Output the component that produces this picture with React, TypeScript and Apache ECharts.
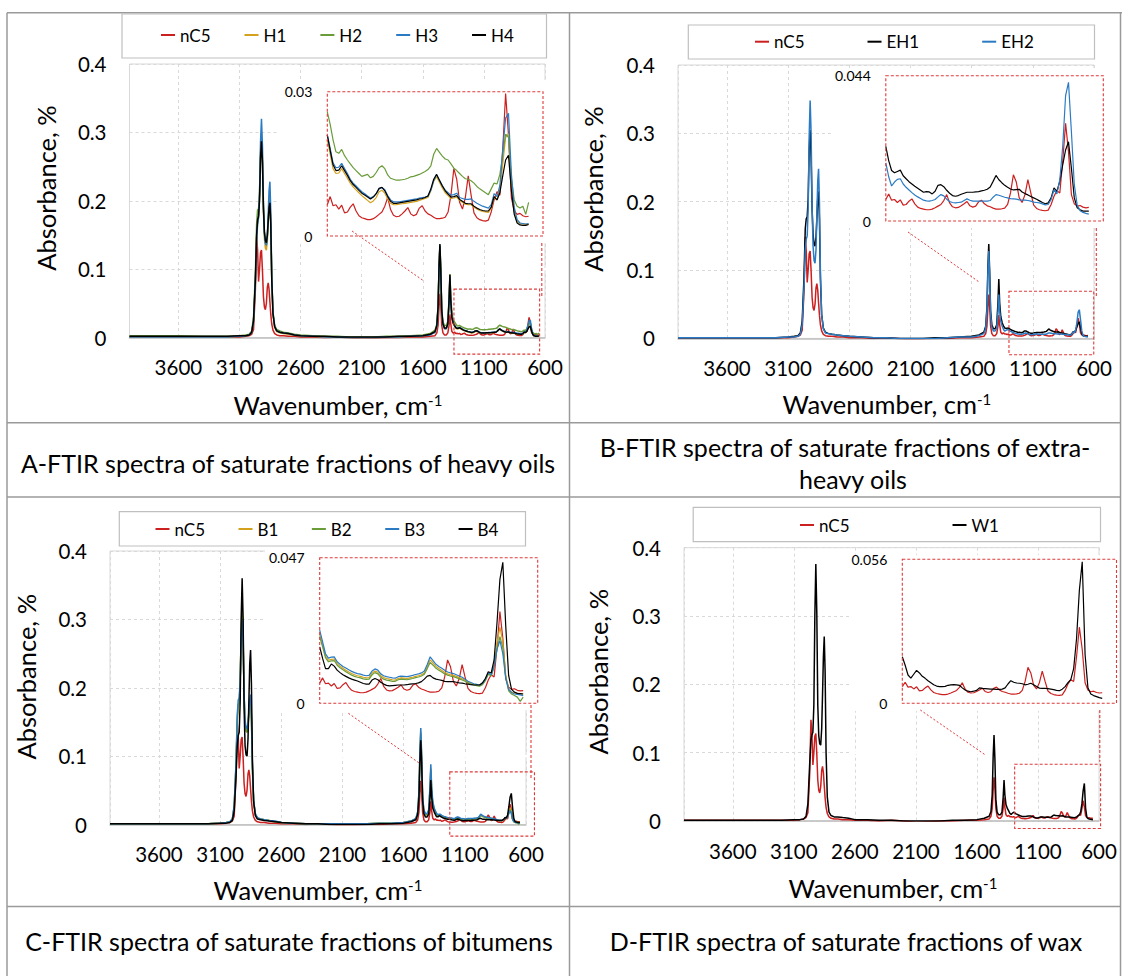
import React, { useEffect, useRef } from "react";
import * as echarts from "echarts";

// ---------- wavenumber grids (cm-1) ----------
const WN_MAIN = [
  4000, 3800, 3600, 3400, 3200, 3100, 3050, 3020, 3000, 2985,
  2970, 2960, 2952, 2944, 2936, 2928, 2920, 2912, 2904, 2896,
  2888, 2880, 2872, 2865, 2858, 2851, 2844, 2836, 2826, 2812,
  2795, 2770, 2740, 2700, 2650, 2600, 2500, 2400, 2300, 2200,
  2100, 2000, 1900, 1800, 1700, 1600, 1540, 1500, 1485, 1475,
  1467, 1460, 1453, 1445, 1435, 1422, 1408, 1395, 1385, 1378,
  1371, 1362,
];
const WN_INSET = [
  1350, 1340, 1330, 1320, 1310, 1300, 1290, 1280, 1270, 1260,
  1250, 1240, 1230, 1220, 1210, 1200, 1190, 1180, 1170, 1160,
  1150, 1140, 1130, 1120, 1110, 1100, 1090, 1080, 1070, 1060,
  1050, 1040, 1030, 1020, 1010, 1000, 990, 980, 970, 960,
  950, 940, 930, 920, 910, 900, 890, 880, 870, 860,
  850, 840, 830, 820, 810, 800, 790, 780, 770, 760,
  750, 740, 730, 720, 710, 700, 690, 680, 670, 660,
  650,
];

// ---------- nC5 (shared reference) ----------
const NC5_MAIN = [
  0.001, 0.001, 0.001, 0.001, 0.001, 0.001, 0.002, 0.003, 0.005, 0.012,
  0.070, 0.148, 0.128, 0.082, 0.100, 0.124, 0.128, 0.098, 0.060, 0.045,
  0.041, 0.050, 0.074, 0.080, 0.071, 0.052, 0.034, 0.020, 0.011, 0.006,
  0.004, 0.003, 0.003, 0.002, 0.002, 0.001, 0.001, 0.000, 0.001, 0.000,
  -0.002, -0.001, 0.000, 0.000, 0.001, 0.001, 0.002, 0.003, 0.007, 0.018,
  0.045, 0.064, 0.048, 0.018, 0.007, 0.004, 0.004, 0.007, 0.018, 0.034,
  0.020, 0.009,
];
const NC5_INSET = [
  0.0065, 0.0082, 0.0063, 0.0065, 0.0056, 0.0064, 0.0048, 0.0050, 0.0060, 0.0067,
  0.0052, 0.0042, 0.0038, 0.0036, 0.0034, 0.0034, 0.0036, 0.0040, 0.0045, 0.0050,
  0.0062, 0.0080, 0.0055, 0.0043, 0.0040, 0.0041, 0.0046, 0.0052, 0.0059, 0.0046,
  0.0042, 0.0045, 0.0058, 0.0063, 0.0052, 0.0046, 0.0043, 0.0039, 0.0036, 0.0036,
  0.0037, 0.0039, 0.0050, 0.0085, 0.0140, 0.0118, 0.0070, 0.0056, 0.0080, 0.0125,
  0.0085, 0.0048, 0.0038, 0.0034, 0.0032, 0.0031, 0.0033, 0.0050, 0.0075, 0.0092,
  0.0085, 0.0180, 0.0296, 0.0210, 0.0080, 0.0052, 0.0045, 0.0047, 0.0042, 0.0040,
  0.0041,
];

// ---------- A: heavy oils ----------
const A_H1_MAIN = [
  0.001, 0.001, 0.001, 0.001, 0.001, 0.002, 0.003, 0.004, 0.008, 0.025,
  0.082, 0.145, 0.170, 0.176, 0.205, 0.270, 0.300, 0.262, 0.185, 0.145,
  0.131, 0.128, 0.142, 0.168, 0.195, 0.205, 0.170, 0.085, 0.034, 0.015,
  0.009, 0.007, 0.006, 0.005, 0.004, 0.003, 0.002, 0.001, 0.001, 0.000,
  0.000, 0.000, 0.001, 0.001, 0.002, 0.003, 0.005, 0.008, 0.017, 0.043,
  0.102, 0.133, 0.097, 0.038, 0.019, 0.013, 0.013, 0.019, 0.052, 0.087,
  0.052, 0.028,
];
const A_H1_INSET = [
  0.0200, 0.0170, 0.0140, 0.0130, 0.0131, 0.0140, 0.0130, 0.0120, 0.0110, 0.0102,
  0.0096, 0.0090, 0.0084, 0.0079, 0.0074, 0.0069, 0.0073, 0.0080, 0.0092, 0.0095,
  0.0089, 0.0077, 0.0068, 0.0065, 0.0065, 0.0066, 0.0067, 0.0068, 0.0069, 0.0070,
  0.0071, 0.0072, 0.0074, 0.0076, 0.0078, 0.0080, 0.0094, 0.0114, 0.0123, 0.0112,
  0.0100, 0.0090, 0.0084, 0.0078, 0.0079, 0.0081, 0.0074, 0.0070, 0.0066, 0.0065,
  0.0065, 0.0060, 0.0056, 0.0053, 0.0051, 0.0050, 0.0049, 0.0058, 0.0080, 0.0075,
  0.0095, 0.0150, 0.0205, 0.0213, 0.0110, 0.0050, 0.0030, 0.0026, 0.0025, 0.0024,
  0.0025,
];
const A_H2_MAIN = [
  0.003, 0.003, 0.003, 0.002, 0.002, 0.003, 0.004, 0.005, 0.010, 0.030,
  0.095, 0.165, 0.187, 0.188, 0.210, 0.268, 0.292, 0.258, 0.188, 0.152,
  0.139, 0.136, 0.148, 0.170, 0.192, 0.200, 0.168, 0.088, 0.038, 0.018,
  0.012, 0.010, 0.008, 0.007, 0.005, 0.004, 0.003, 0.002, 0.002, 0.001,
  0.001, 0.001, 0.002, 0.002, 0.003, 0.004, 0.006, 0.011, 0.020, 0.047,
  0.105, 0.135, 0.102, 0.043, 0.023, 0.018, 0.018, 0.024, 0.058, 0.093,
  0.060, 0.036,
];
const A_H2_INSET = [
  0.0258, 0.0232, 0.0200, 0.0175, 0.0172, 0.0180, 0.0167, 0.0158, 0.0150, 0.0142,
  0.0136, 0.0130, 0.0124, 0.0126, 0.0128, 0.0121, 0.0124, 0.0132, 0.0142, 0.0146,
  0.0140, 0.0127, 0.0120, 0.0118, 0.0116, 0.0116, 0.0117, 0.0118, 0.0120, 0.0123,
  0.0124, 0.0126, 0.0128, 0.0131, 0.0134, 0.0138, 0.0146, 0.0170, 0.0182, 0.0174,
  0.0166, 0.0160, 0.0158, 0.0150, 0.0141, 0.0136, 0.0130, 0.0124, 0.0119, 0.0118,
  0.0115, 0.0110, 0.0103, 0.0098, 0.0094, 0.0090, 0.0086, 0.0098, 0.0110, 0.0108,
  0.0128, 0.0168, 0.0212, 0.0205, 0.0120, 0.0075, 0.0062, 0.0058, 0.0062, 0.0045,
  0.0070,
];
const A_H3_MAIN = [
  0.001, 0.001, 0.001, 0.001, 0.001, 0.002, 0.003, 0.004, 0.008, 0.024,
  0.080, 0.140, 0.165, 0.175, 0.210, 0.285, 0.320, 0.280, 0.195, 0.152,
  0.138, 0.135, 0.150, 0.180, 0.215, 0.228, 0.185, 0.090, 0.036, 0.016,
  0.010, 0.008, 0.007, 0.006, 0.004, 0.003, 0.002, 0.001, 0.001, 0.000,
  0.000, 0.000, 0.001, 0.001, 0.002, 0.003, 0.004, 0.008, 0.017, 0.043,
  0.102, 0.134, 0.097, 0.038, 0.019, 0.013, 0.013, 0.019, 0.052, 0.088,
  0.052, 0.028,
];
const A_H3_INSET = [
  0.0210, 0.0182, 0.0152, 0.0142, 0.0143, 0.0151, 0.0140, 0.0130, 0.0118, 0.0110,
  0.0104, 0.0098, 0.0092, 0.0088, 0.0083, 0.0079, 0.0082, 0.0088, 0.0098, 0.0101,
  0.0096, 0.0084, 0.0075, 0.0071, 0.0071, 0.0071, 0.0072, 0.0073, 0.0074, 0.0075,
  0.0076, 0.0077, 0.0079, 0.0080, 0.0081, 0.0083, 0.0095, 0.0115, 0.0128, 0.0116,
  0.0105, 0.0095, 0.0090, 0.0085, 0.0086, 0.0089, 0.0080, 0.0078, 0.0076, 0.0076,
  0.0077, 0.0072, 0.0068, 0.0065, 0.0062, 0.0060, 0.0058, 0.0065, 0.0088, 0.0082,
  0.0105, 0.0180, 0.0245, 0.0255, 0.0130, 0.0060, 0.0034, 0.0027, 0.0026, 0.0025,
  0.0026,
];
const A_H4_MAIN = [
  0.002, 0.002, 0.002, 0.002, 0.002, 0.003, 0.003, 0.004, 0.008, 0.025,
  0.085, 0.150, 0.172, 0.178, 0.200, 0.262, 0.287, 0.255, 0.190, 0.155,
  0.142, 0.139, 0.150, 0.170, 0.190, 0.197, 0.165, 0.085, 0.035, 0.016,
  0.010, 0.008, 0.007, 0.006, 0.004, 0.003, 0.002, 0.002, 0.001, 0.001,
  0.001, 0.001, 0.001, 0.002, 0.002, 0.003, 0.005, 0.009, 0.018, 0.045,
  0.105, 0.137, 0.100, 0.040, 0.020, 0.014, 0.014, 0.020, 0.055, 0.092,
  0.055, 0.030,
];
const A_H4_INSET = [
  0.0210, 0.0178, 0.0148, 0.0136, 0.0137, 0.0146, 0.0136, 0.0126, 0.0115, 0.0107,
  0.0101, 0.0095, 0.0089, 0.0085, 0.0081, 0.0077, 0.0081, 0.0088, 0.0099, 0.0101,
  0.0094, 0.0082, 0.0072, 0.0068, 0.0068, 0.0069, 0.0070, 0.0071, 0.0072, 0.0073,
  0.0074, 0.0075, 0.0077, 0.0078, 0.0080, 0.0083, 0.0098, 0.0118, 0.0128, 0.0116,
  0.0104, 0.0094, 0.0087, 0.0081, 0.0082, 0.0084, 0.0076, 0.0072, 0.0068, 0.0067,
  0.0067, 0.0062, 0.0058, 0.0055, 0.0053, 0.0052, 0.0052, 0.0060, 0.0082, 0.0075,
  0.0090, 0.0125, 0.0158, 0.0168, 0.0095, 0.0045, 0.0027, 0.0023, 0.0022, 0.0022,
  0.0024,
];

// ---------- B: extra-heavy oils ----------
const B_EH1_MAIN = [
  0.001, 0.001, 0.001, 0.001, 0.001, 0.002, 0.003, 0.004, 0.008, 0.025,
  0.090, 0.160, 0.175, 0.178, 0.205, 0.275, 0.305, 0.265, 0.190, 0.152,
  0.138, 0.135, 0.148, 0.175, 0.205, 0.215, 0.175, 0.088, 0.035, 0.015,
  0.009, 0.007, 0.006, 0.005, 0.004, 0.003, 0.002, 0.001, 0.001, 0.000,
  0.000, 0.000, 0.001, 0.001, 0.002, 0.003, 0.005, 0.009, 0.018, 0.045,
  0.105, 0.138, 0.100, 0.040, 0.020, 0.014, 0.014, 0.020, 0.052, 0.087,
  0.052, 0.032,
];
const B_EH1_INSET = [
  0.0226, 0.0183, 0.0153, 0.0146, 0.0150, 0.0154, 0.0137, 0.0128, 0.0119, 0.0112,
  0.0105, 0.0099, 0.0093, 0.0087, 0.0089, 0.0088, 0.0082, 0.0090, 0.0108, 0.0110,
  0.0104, 0.0093, 0.0084, 0.0077, 0.0075, 0.0077, 0.0081, 0.0084, 0.0087, 0.0087,
  0.0087, 0.0088, 0.0089, 0.0091, 0.0093, 0.0096, 0.0103, 0.0120, 0.0138, 0.0125,
  0.0116, 0.0108, 0.0102, 0.0097, 0.0094, 0.0095, 0.0096, 0.0088, 0.0083, 0.0079,
  0.0074, 0.0070, 0.0066, 0.0061, 0.0056, 0.0052, 0.0055, 0.0070, 0.0100, 0.0090,
  0.0120, 0.0170, 0.0215, 0.0240, 0.0160, 0.0070, 0.0040, 0.0034, 0.0030, 0.0030,
  0.0030,
];
const B_EH2_MAIN = [
  0.001, 0.001, 0.001, 0.001, 0.001, 0.002, 0.002, 0.003, 0.006, 0.020,
  0.075, 0.130, 0.145, 0.150, 0.190, 0.295, 0.348, 0.300, 0.190, 0.135,
  0.114, 0.110, 0.130, 0.180, 0.230, 0.248, 0.200, 0.095, 0.035, 0.014,
  0.008, 0.007, 0.006, 0.005, 0.004, 0.003, 0.002, 0.001, 0.001, 0.000,
  0.000, 0.000, 0.000, 0.001, 0.002, 0.002, 0.004, 0.007, 0.015, 0.040,
  0.097, 0.128, 0.092, 0.035, 0.016, 0.011, 0.011, 0.015, 0.038, 0.064,
  0.040, 0.025,
];
const B_EH2_INSET = [
  0.0176, 0.0134, 0.0106, 0.0118, 0.0126, 0.0128, 0.0112, 0.0102, 0.0094, 0.0086,
  0.0079, 0.0073, 0.0068, 0.0063, 0.0061, 0.0060, 0.0062, 0.0065, 0.0073, 0.0080,
  0.0076, 0.0066, 0.0059, 0.0056, 0.0055, 0.0056, 0.0057, 0.0062, 0.0067, 0.0063,
  0.0060, 0.0060, 0.0060, 0.0060, 0.0060, 0.0060, 0.0062, 0.0072, 0.0080, 0.0078,
  0.0075, 0.0072, 0.0070, 0.0068, 0.0067, 0.0066, 0.0064, 0.0063, 0.0063, 0.0062,
  0.0060, 0.0057, 0.0056, 0.0055, 0.0052, 0.0049, 0.0050, 0.0065, 0.0095, 0.0082,
  0.0125, 0.0225, 0.0380, 0.0420, 0.0270, 0.0110, 0.0048, 0.0031, 0.0026, 0.0023,
  0.0021,
];

// ---------- C: bitumens ----------
const C_B1_MAIN = [
  0.001, 0.001, 0.001, 0.001, 0.001, 0.002, 0.003, 0.004, 0.008, 0.026,
  0.085, 0.150, 0.170, 0.175, 0.210, 0.285, 0.320, 0.278, 0.190, 0.148,
  0.137, 0.135, 0.145, 0.163, 0.180, 0.186, 0.155, 0.082, 0.034, 0.015,
  0.009, 0.008, 0.007, 0.006, 0.004, 0.003, 0.002, 0.001, 0.001, 0.001,
  0.001, 0.001, 0.001, 0.002, 0.002, 0.003, 0.005, 0.008, 0.018, 0.046,
  0.104, 0.136, 0.099, 0.040, 0.020, 0.015, 0.015, 0.020, 0.051, 0.082,
  0.050, 0.031,
];
const C_B1_INSET = [
  0.0222, 0.0188, 0.0152, 0.0139, 0.0142, 0.0143, 0.0128, 0.0120, 0.0113, 0.0107,
  0.0101, 0.0096, 0.0092, 0.0089, 0.0087, 0.0084, 0.0082, 0.0083, 0.0097, 0.0104,
  0.0100, 0.0089, 0.0083, 0.0080, 0.0078, 0.0076, 0.0075, 0.0080, 0.0082, 0.0081,
  0.0080, 0.0082, 0.0084, 0.0087, 0.0089, 0.0092, 0.0098, 0.0118, 0.0140, 0.0130,
  0.0119, 0.0112, 0.0106, 0.0100, 0.0095, 0.0092, 0.0090, 0.0087, 0.0083, 0.0079,
  0.0074, 0.0068, 0.0064, 0.0061, 0.0059, 0.0057, 0.0062, 0.0076, 0.0096, 0.0090,
  0.0125, 0.0195, 0.0245, 0.0200, 0.0090, 0.0045, 0.0036, 0.0033, 0.0032, 0.0031,
  0.0030,
];
const C_B2_MAIN = [
  0.001, 0.001, 0.001, 0.001, 0.001, 0.002, 0.003, 0.004, 0.008, 0.027,
  0.088, 0.155, 0.175, 0.178, 0.208, 0.278, 0.310, 0.270, 0.188, 0.148,
  0.137, 0.135, 0.144, 0.160, 0.176, 0.182, 0.152, 0.080, 0.033, 0.015,
  0.009, 0.008, 0.007, 0.006, 0.004, 0.003, 0.002, 0.001, 0.001, 0.001,
  0.001, 0.001, 0.001, 0.002, 0.002, 0.003, 0.005, 0.008, 0.017, 0.045,
  0.102, 0.133, 0.097, 0.039, 0.019, 0.014, 0.014, 0.019, 0.050, 0.080,
  0.048, 0.030,
];
const C_B2_INSET = [
  0.0215, 0.0182, 0.0147, 0.0134, 0.0137, 0.0138, 0.0123, 0.0115, 0.0108, 0.0102,
  0.0096, 0.0091, 0.0087, 0.0084, 0.0082, 0.0079, 0.0077, 0.0078, 0.0092, 0.0099,
  0.0095, 0.0084, 0.0078, 0.0075, 0.0073, 0.0071, 0.0071, 0.0076, 0.0078, 0.0077,
  0.0076, 0.0078, 0.0080, 0.0083, 0.0085, 0.0088, 0.0094, 0.0112, 0.0132, 0.0123,
  0.0113, 0.0107, 0.0101, 0.0095, 0.0091, 0.0088, 0.0086, 0.0083, 0.0079, 0.0075,
  0.0071, 0.0066, 0.0062, 0.0059, 0.0057, 0.0055, 0.0060, 0.0073, 0.0094, 0.0088,
  0.0118, 0.0175, 0.0215, 0.0180, 0.0085, 0.0040, 0.0030, 0.0025, 0.0020, 0.0006,
  0.0020,
];
const C_B3_MAIN = [
  0.001, 0.001, 0.001, 0.001, 0.001, 0.002, 0.003, 0.004, 0.008, 0.028,
  0.090, 0.160, 0.182, 0.185, 0.210, 0.270, 0.300, 0.265, 0.190, 0.152,
  0.142, 0.140, 0.148, 0.165, 0.183, 0.190, 0.160, 0.085, 0.035, 0.016,
  0.010, 0.008, 0.007, 0.006, 0.005, 0.003, 0.002, 0.001, 0.001, 0.001,
  0.001, 0.001, 0.001, 0.002, 0.002, 0.003, 0.005, 0.009, 0.019, 0.048,
  0.108, 0.141, 0.103, 0.042, 0.022, 0.016, 0.016, 0.022, 0.055, 0.088,
  0.055, 0.034,
];
const C_B3_INSET = [
  0.0236, 0.0198, 0.0160, 0.0146, 0.0149, 0.0150, 0.0134, 0.0126, 0.0119, 0.0114,
  0.0108, 0.0103, 0.0099, 0.0096, 0.0094, 0.0091, 0.0089, 0.0090, 0.0104, 0.0111,
  0.0107, 0.0095, 0.0089, 0.0086, 0.0084, 0.0082, 0.0081, 0.0086, 0.0088, 0.0087,
  0.0086, 0.0088, 0.0090, 0.0093, 0.0095, 0.0098, 0.0104, 0.0125, 0.0150, 0.0138,
  0.0126, 0.0119, 0.0113, 0.0107, 0.0101, 0.0098, 0.0096, 0.0092, 0.0088, 0.0084,
  0.0078, 0.0071, 0.0067, 0.0063, 0.0061, 0.0059, 0.0064, 0.0078, 0.0099, 0.0092,
  0.0120, 0.0175, 0.0202, 0.0160, 0.0080, 0.0045, 0.0035, 0.0030, 0.0029, 0.0027,
  0.0025,
];
const C_B4_MAIN = [
  0.001, 0.001, 0.001, 0.001, 0.001, 0.002, 0.002, 0.003, 0.006, 0.020,
  0.070, 0.115, 0.130, 0.135, 0.180, 0.300, 0.360, 0.300, 0.170, 0.115,
  0.102, 0.100, 0.125, 0.180, 0.235, 0.255, 0.205, 0.095, 0.033, 0.013,
  0.008, 0.007, 0.006, 0.005, 0.004, 0.003, 0.002, 0.001, 0.001, 0.000,
  0.000, 0.000, 0.000, 0.001, 0.001, 0.002, 0.004, 0.007, 0.015, 0.038,
  0.092, 0.123, 0.090, 0.035, 0.016, 0.011, 0.011, 0.015, 0.038, 0.065,
  0.040, 0.024,
];
const C_B4_INSET = [
  0.0182, 0.0145, 0.0112, 0.0112, 0.0127, 0.0120, 0.0107, 0.0099, 0.0092, 0.0087,
  0.0082, 0.0078, 0.0075, 0.0072, 0.0068, 0.0064, 0.0062, 0.0062, 0.0075, 0.0080,
  0.0076, 0.0068, 0.0062, 0.0058, 0.0056, 0.0057, 0.0058, 0.0059, 0.0059, 0.0059,
  0.0060, 0.0062, 0.0063, 0.0064, 0.0066, 0.0070, 0.0078, 0.0088, 0.0090, 0.0082,
  0.0078, 0.0076, 0.0074, 0.0071, 0.0070, 0.0070, 0.0070, 0.0068, 0.0066, 0.0065,
  0.0063, 0.0062, 0.0060, 0.0059, 0.0059, 0.0059, 0.0066, 0.0080, 0.0102, 0.0098,
  0.0140, 0.0260, 0.0400, 0.0455, 0.0250, 0.0090, 0.0045, 0.0036, 0.0032, 0.0031,
  0.0030,
];

// ---------- D: wax ----------
const D_W1_MAIN = [
  0.001, 0.001, 0.001, 0.001, 0.001, 0.002, 0.002, 0.003, 0.007, 0.025,
  0.085, 0.118, 0.126, 0.130, 0.170, 0.300, 0.376, 0.305, 0.170, 0.125,
  0.113, 0.111, 0.135, 0.185, 0.240, 0.270, 0.220, 0.100, 0.035, 0.013,
  0.008, 0.006, 0.006, 0.005, 0.004, 0.002, 0.002, 0.001, 0.001, 0.000,
  0.000, 0.000, 0.000, 0.001, 0.001, 0.002, 0.004, 0.007, 0.014, 0.038,
  0.095, 0.126, 0.092, 0.032, 0.013, 0.009, 0.009, 0.013, 0.035, 0.060,
  0.038, 0.024,
];
const D_W1_INSET = [
  0.0181, 0.0148, 0.0110, 0.0098, 0.0113, 0.0128, 0.0118, 0.0105, 0.0097, 0.0088,
  0.0080, 0.0072, 0.0067, 0.0065, 0.0065, 0.0066, 0.0070, 0.0072, 0.0073, 0.0072,
  0.0070, 0.0060, 0.0052, 0.0047, 0.0045, 0.0047, 0.0050, 0.0060, 0.0058, 0.0057,
  0.0056, 0.0055, 0.0055, 0.0054, 0.0054, 0.0055, 0.0060, 0.0075, 0.0088, 0.0082,
  0.0079, 0.0078, 0.0076, 0.0072, 0.0074, 0.0078, 0.0072, 0.0065, 0.0059, 0.0058,
  0.0058, 0.0057, 0.0055, 0.0053, 0.0050, 0.0049, 0.0055, 0.0065, 0.0080, 0.0092,
  0.0135, 0.0250, 0.0440, 0.0550, 0.0190, 0.0060, 0.0036, 0.0030, 0.0026, 0.0022,
  0.0019,
];

const INSET_MAX = [0.03, 0.044, 0.047, 0.056];
const CAPTIONS = [
  "A-FTIR spectra of saturate fractions of heavy oils",
  "B-FTIR spectra of saturate fractions of extra-",
  "heavy oils",
  "C-FTIR spectra of saturate fractions of bitumens",
  "D-FTIR spectra of saturate fractions of wax",
];

// ---------- styles ----------
const FONT = 'Lato, "Noto Sans", sans-serif';
const RED = "#cc1f1f";
const GOLD = "#d4a11c";
const GREEN = "#6a9c3a";
const BLUE = "#2b7bc4";
const BLACK = "#000000";
const DASH_RED = "#e03a3a";
const TABLE = "#9a9a9a";
const GRIDC = "#d9d9d9";

const PANELS: any[] = [
  {
    names: ["nC5", "H1", "H2", "H3", "H4"],
    colors: [RED, GOLD, GREEN, BLUE, BLACK],
    main: [NC5_MAIN, A_H1_MAIN, A_H2_MAIN, A_H3_MAIN, A_H4_MAIN],
    inset: [NC5_INSET, A_H1_INSET, A_H2_INSET, A_H3_INSET, A_H4_INSET],
    grid: { left: 129.5, top: 64, width: 415.5, height: 273.7 },
    insetGrid: { left: 327.3, top: 91.7, width: 215.7, height: 144.3 },
    legend: { left: 161, cy: 35, gap: 34 },
    legendBox: [122, 14, 424.5, 44],
    yTitle: [45.5, 188],
    xTitle: [338, 405],
    mask: [279, 80, 269, 163],
    zoom: [1345, 644, -0.024, 0.071],
    conFrom: [352, 231],
    conTo: [1600, 0.084],
    vline: [541.8, 243, 297],
  },
  {
    names: ["nC5", "EH1", "EH2"],
    colors: [RED, BLACK, BLUE],
    main: [NC5_MAIN, B_EH1_MAIN, B_EH2_MAIN],
    inset: [NC5_INSET, B_EH1_INSET, B_EH2_INSET],
    grid: { left: 678, top: 65, width: 416, height: 273.4 },
    insetGrid: { left: 885.8, top: 75.7, width: 217.5, height: 145.3 },
    legend: { left: 755, cy: 41.7, gap: 63 },
    legendBox: [688.3, 25, 406.2, 34],
    yTitle: [592.9, 189],
    xTitle: [886.9, 404],
    mask: [832, 68, 274, 160],
    zoom: [1295, 602, -0.024, 0.069],
    conFrom: [908, 232],
    conTo: [1543, 0.083],
    vline: [1096.3, 228, 296.7],
  },
  {
    names: ["nC5", "B1", "B2", "B3", "B4"],
    colors: [RED, GOLD, GREEN, BLUE, BLACK],
    main: [NC5_MAIN, C_B1_MAIN, C_B2_MAIN, C_B3_MAIN, C_B4_MAIN],
    inset: [NC5_INSET, C_B1_INSET, C_B2_INSET, C_B3_INSET, C_B4_INSET],
    grid: { left: 110, top: 551, width: 416, height: 273.5 },
    insetGrid: { left: 319.7, top: 557.7, width: 218, height: 145.6 },
    legend: { left: 155.5, cy: 529, gap: 33.5 },
    legendBox: [119.3, 511.7, 406.2, 34.3],
    yTitle: [25.5, 676.7],
    xTitle: [318, 890],
    mask: [265, 549, 275, 161],
    zoom: [1223, 531, -0.017, 0.077],
    conFrom: [348.4, 713.3],
    conTo: [1466, 0.089],
    vline: [531, 705, 780],
  },
  {
    names: ["nC5", "W1"],
    colors: [RED, BLACK],
    main: [NC5_MAIN, D_W1_MAIN],
    inset: [NC5_INSET, D_W1_INSET],
    grid: { left: 684, top: 547.7, width: 415, height: 273.3 },
    insetGrid: { left: 902.3, top: 559.3, width: 214.2, height: 144 },
    legend: { left: 800, cy: 525, gap: 103 },
    legendBox: [693.2, 507.3, 407.3, 34.4],
    yTitle: [598, 671.7],
    xTitle: [893, 888.3],
    mask: [850, 555, 269, 156],
    zoom: [1291, 587, -0.011, 0.083],
    conFrom: [920.3, 710],
    conTo: [1534, 0.097],
    vline: [1099.8, 710, 761.7],
  },
];

const WN_ALL = [...WN_MAIN, ...WN_INSET];

function buildOption() {
  const grid: any[] = [];
  const xAxis: any[] = [];
  const yAxis: any[] = [];
  const legend: any[] = [];
  const series: any[] = [];

  PANELS.forEach((p, pi) => {
    grid.push({
      ...p.grid,
      show: true,
      borderColor: GRIDC,
      borderWidth: 1,
      containLabel: false,
      outerBoundsMode: "none",
    });
    grid.push({ ...p.insetGrid, show: false, containLabel: false, outerBoundsMode: "none" });

    xAxis.push({
      type: "value",
      gridIndex: pi * 2,
      min: 600,
      max: 4000,
      interval: 500,
      inverse: true,
      axisLine: { show: true, onZero: false, lineStyle: { color: "#bfbfbf", width: 1.5 } },
      axisTick: { show: false },
      axisLabel: {
        margin: 19,
        fontSize: 20.5,
        color: "#000",
        fontFamily: FONT,
        formatter: (v: number) => (v === 4000 ? "" : String(v)),
      },
      splitLine: { show: true, lineStyle: { color: GRIDC, width: 1, type: [3, 3] } },
    });
    xAxis.push({
      type: "value",
      gridIndex: pi * 2 + 1,
      min: 600,
      max: 1350,
      inverse: true,
      show: false,
    });

    yAxis.push({
      type: "value",
      gridIndex: pi * 2,
      min: 0,
      max: 0.4,
      interval: 0.1,
      axisLine: { show: false },
      axisTick: { show: false },
      axisLabel: { margin: 23, fontSize: 20.5, color: "#000", fontFamily: FONT },
      splitLine: { show: true, lineStyle: { color: GRIDC, width: 1, type: [3, 3] } },
    });
    const mx = INSET_MAX[pi];
    yAxis.push({
      type: "value",
      gridIndex: pi * 2 + 1,
      min: 0,
      max: mx,
      interval: mx,
      z: 3,
      axisLine: { show: false },
      axisTick: { show: false },
      splitLine: { show: false },
      axisLabel: {
        margin: 15,
        fontSize: 14,
        color: "#000",
        fontFamily: FONT,
        formatter: (v: number) => String(+v.toFixed(3)),
      },
    });

    legend.push({
      data: p.names,
      left: p.legend.left,
      top: p.legend.cy - 8.5,
      orient: "horizontal",
      itemGap: p.legend.gap,
      itemWidth: 14,
      itemHeight: 2,
      icon: "rect",
      padding: 0,
      selectedMode: false,
      textStyle: { fontSize: 17, color: "#000", fontFamily: FONT },
    });

    p.names.forEach((name: string, si: number) => {
      const ys = [...p.main[si], ...p.inset[si]];
      const color = p.colors[si];
      series.push({
        type: "line",
        name,
        xAxisIndex: pi * 2,
        yAxisIndex: pi * 2,
        data: WN_ALL.map((w, k) => [w, ys[k]]),
        showSymbol: false,
        symbol: "none",
        silent: true,
        z: 2,
        color,
        itemStyle: { color },
        lineStyle: { color, width: 1.5 },
      });
      series.push({
        type: "line",
        name,
        xAxisIndex: pi * 2 + 1,
        yAxisIndex: pi * 2 + 1,
        data: WN_INSET.map((w, k) => [w, p.inset[si][k]]),
        showSymbol: false,
        symbol: "none",
        silent: true,
        z: 4,
        color,
        itemStyle: { color },
        lineStyle: { color, width: 1.2 },
      });
    });
  });

  return {
    animation: false,
    backgroundColor: "#ffffff",
    textStyle: { fontFamily: FONT },
    grid,
    xAxis,
    yAxis,
    legend,
    series,
  };
}

function buildGraphics(chart: any) {
  const els: any[] = [];
  const line = (id: string, x1: number, y1: number, x2: number, y2: number, stroke: string, w: number, z: number, dash?: number[]) =>
    els.push({
      type: "line",
      id,
      z,
      silent: true,
      shape: { x1, y1, x2, y2 },
      style: { stroke, lineWidth: w, lineDash: dash || null },
    });

  // table rules
  line("t-top", 7, 12.7, 1122, 12.7, TABLE, 1.5, 0);
  line("t-left", 7, 12.7, 7, 976, TABLE, 1.5, 0);
  line("t-mid", 569.5, 12.7, 569.5, 976, TABLE, 1.5, 0);
  line("t-right", 1120.5, 12.7, 1120.5, 976, TABLE, 1.5, 0);
  line("t-h1", 7, 422.7, 1120.5, 422.7, TABLE, 1.5, 0);
  line("t-h2", 7, 497, 1120.5, 497, TABLE, 1.5, 0);
  line("t-h3", 7, 906.5, 1120.5, 906.5, TABLE, 1.5, 0);

  // captions
  const cap = (id: string, text: string, x: number, y: number) =>
    els.push({
      type: "text",
      id,
      z: 5,
      x,
      y,
      style: { text, fontSize: 25, fontFamily: FONT, fill: "#000", align: "center", verticalAlign: "middle" },
    });
  cap("cap-a", CAPTIONS[0], 288, 462.5);
  cap("cap-b1", CAPTIONS[1], 845, 447);
  cap("cap-b2", CAPTIONS[2], 853, 479);
  cap("cap-c", CAPTIONS[3], 289, 941);
  cap("cap-d", CAPTIONS[4], 846, 941);

  PANELS.forEach((p, pi) => {
    const toPx = (w: number, v: number) =>
      chart.convertToPixel({ xAxisIndex: pi * 2, yAxisIndex: pi * 2 }, [w, v]) as number[];

    // legend frame
    const lb = p.legendBox;
    els.push({
      type: "rect",
      id: `lb-${pi}`,
      z: 1,
      silent: true,
      shape: { x: lb[0], y: lb[1], width: lb[2], height: lb[3] },
      style: { fill: "#fff", stroke: "#bfbfbf", lineWidth: 1.2 },
    });
    // white backdrop of the inset chart
    const m = p.mask;
    els.push({
      type: "rect",
      id: `mask-${pi}`,
      z: 1,
      silent: true,
      shape: { x: m[0], y: m[1], width: m[2], height: m[3] },
      style: { fill: "#fff" },
    });
    const g01 = toPx(4000, 0.1);
    const gR = toPx(600, 0.1);
    line(`gm-${pi}`, m[0], g01[1], gR[0] + 1, gR[1], "#fff", 2.5, 1);

    // axis titles
    els.push({
      type: "text",
      id: `yt-${pi}`,
      z: 5,
      x: p.yTitle[0],
      y: p.yTitle[1],
      rotation: Math.PI / 2,
      style: {
        text: "Absorbance, %",
        fontSize: 25.5,
        fontFamily: FONT,
        fill: "#000",
        align: "center",
        verticalAlign: "middle",
      },
    });
    els.push({
      type: "text",
      id: `xt-${pi}`,
      z: 5,
      x: p.xTitle[0],
      y: p.xTitle[1],
      style: {
        text: "{a|Wavenumber, cm}{b|-1}",
        fontFamily: FONT,
        fill: "#000",
        align: "center",
        verticalAlign: "middle",
        rich: {
          a: { fontSize: 25.5, fontFamily: FONT, fill: "#000" },
          b: { fontSize: 15, fontFamily: FONT, fill: "#000", verticalAlign: "top" },
        },
      },
    });

    // inset frame
    const ig = p.insetGrid;
    els.push({
      type: "rect",
      id: `ib-${pi}`,
      z: 6,
      silent: true,
      shape: { x: ig.left, y: ig.top, width: ig.width, height: ig.height },
      style: { fill: null, stroke: DASH_RED, lineWidth: 1.1, lineDash: [3, 2] },
    });

    // zoomed region marker
    const a = toPx(p.zoom[0], p.zoom[3]);
    const b = toPx(p.zoom[1], p.zoom[2]);
    els.push({
      type: "rect",
      id: `zr-${pi}`,
      z: 6,
      silent: true,
      shape: { x: Math.min(a[0], b[0]), y: Math.min(a[1], b[1]), width: Math.abs(b[0] - a[0]), height: Math.abs(b[1] - a[1]) },
      style: { fill: null, stroke: DASH_RED, lineWidth: 1.1, lineDash: [3, 2] },
    });
    const ct = toPx(p.conTo[0], p.conTo[1]);
    line(`con-${pi}`, p.conFrom[0], p.conFrom[1], ct[0], ct[1], DASH_RED, 1, 6, [2, 2]);
    line(`vl-${pi}`, p.vline[0], p.vline[1], p.vline[0], p.vline[2], DASH_RED, 1.1, 6, [3, 2]);
  });

  return els;
}

export default function App() {
  const ref = useRef<HTMLDivElement>(null);
  useEffect(() => {
    if (!ref.current) return;
    const chart = echarts.init(ref.current, null, { renderer: "svg", width: 1122, height: 976 });
    chart.setOption(buildOption() as any);
    chart.setOption({ graphic: { elements: buildGraphics(chart) } } as any);
    return () => {
      chart.dispose();
    };
  }, []);
  return (
    <div
      ref={ref}
      style={{ position: "fixed", left: 0, top: 0, width: 1122, height: 976, background: "#fff" }}
    />
  );
}
